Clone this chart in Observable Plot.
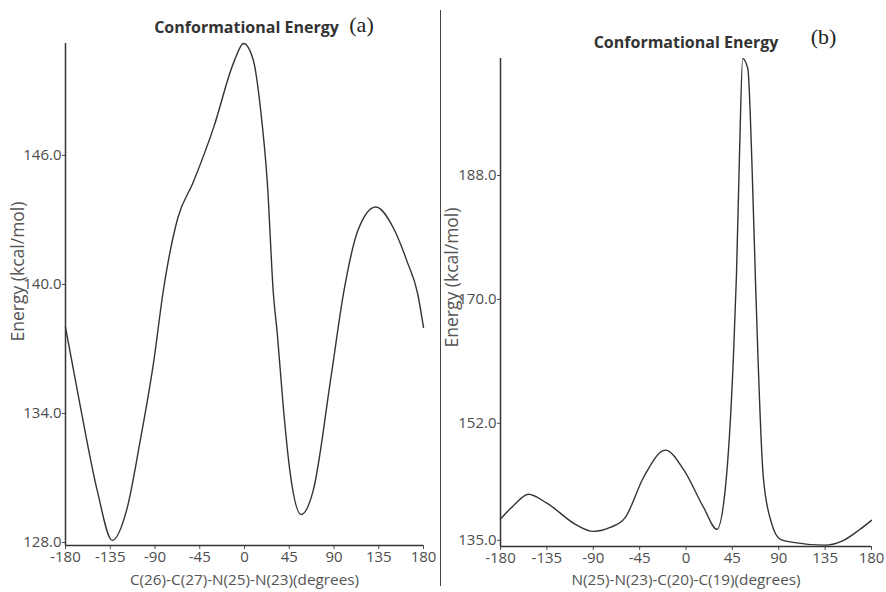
<!DOCTYPE html>
<html><head><meta charset="utf-8">
<script src="https://cdn.jsdelivr.net/npm/d3@7"></script>
<script src="https://cdn.jsdelivr.net/npm/@observablehq/plot@0.6"></script>
<style>
body{margin:0;background:#fff;}
#wrap{position:relative;width:886px;height:592px;overflow:hidden;background:#fff;}
.panel{position:absolute;top:0;}
#divider{position:absolute;left:440px;top:10px;width:1px;height:576px;background:#444;}
</style></head><body>
<div id="wrap"><div class="panel" id="pa" style="left:0"></div><div id="divider"></div><div class="panel" id="pb" style="left:443px"></div></div>
<script>
// Panel (a): C(26)-C(27)-N(25)-N(23)
const anglesA = [-180, -165, -148, -133, -118, -105, -91, -82, -67, -52, -31, -11, -1, 9, 16, 23, 29, 33, 39, 46, 57, 69, 87, 100, 114, 132, 150, 164, 174, 180];
const energyA = [138.0, 134.3, 130.4, 128.1, 129.6, 132.7, 136.5, 139.6, 143.1, 144.7, 147.3, 150.3, 151.2, 150.4, 148.2, 144.7, 139.6, 137.7, 134.3, 131.2, 129.3, 130.4, 135.7, 139.7, 142.5, 143.6, 142.6, 141.0, 139.6, 138.0];
const yTicksA = [128, 134, 140, 146];

// Panel (b): N(25)-N(23)-C(20)-C(19)
const anglesB = [-180, -167, -153, -135, -106, -90, -73, -59, -41, -20, -2, 17, 30, 38, 46, 49, 52, 55, 60, 64, 67.5, 75, 83, 92, 104, 134, 153, 168, 180];
const energyB = [138.1, 140.1, 141.7, 140.4, 137.2, 136.3, 136.9, 138.3, 144.2, 148.1, 145.2, 139.8, 136.6, 142.3, 161.6, 173.7, 191.6, 205.0, 203.5, 189.7, 172.3, 144.2, 137.5, 135.1, 134.7, 134.3, 135.0, 136.5, 137.9];
const yTicksB = [135, 152, 170, 188];

const xTicks = [-180, -135, -90, -45, 0, 45, 90, 135, 180];
const titleText = "Conformational Energy";
const yLabel = "Energy (kcal/mol)";
const xLabelA = "C(26)-C(27)-N(25)-N(23)(degrees)";
const xLabelB = "N(25)-N(23)-C(20)-C(19)(degrees)";

function panel(o) {
  const data = o.angles.map((a, i) => ({angle: a, energy: o.energy[i]}));
  return Plot.plot({
    width: 443, height: 592,
    marginLeft: o.ml, marginRight: o.mr, marginTop: o.mt, marginBottom: o.mb,
    style: {fontFamily: "'Open Sans', 'Noto Sans', sans-serif", fontSize: "15px", color: "#4d4d4d", background: "#fff", overflow: "visible"},
    x: {domain: [-180, 180], ticks: xTicks, tickFormat: d => String(d), tickSize: 4, tickPadding: 2, label: null},
    y: {domain: o.yDomain, ticks: o.yTicks, tickFormat: d => d.toFixed(1), tickSize: 3, tickPadding: 1, label: null},
    marks: [
      Plot.ruleX([-180], {stroke: "#333", strokeWidth: 1.5}),
      Plot.ruleY([o.yDomain[0]], {stroke: "#333", strokeWidth: 1.5}),
      Plot.line(data, {x: "angle", y: "energy", curve: "monotone-x", stroke: "#333", strokeWidth: 1.4}),
      Plot.text([titleText], {text: d => d, frameAnchor: "top", dy: o.titleDy, dx: o.titleDx, fontWeight: "bold", fontSize: 16, fill: "#333"}),
      Plot.text([o.tag], {text: d => d, frameAnchor: "top-right", dx: o.tagDx, dy: o.tagDy, textAnchor: "middle", fontFamily: "'Liberation Serif', serif", fontSize: 22, fill: "#222"}),
      Plot.text([yLabel], {text: d => d, frameAnchor: "left", rotate: -90, textAnchor: "middle", lineAnchor: "middle", dx: o.ylDx, dy: o.ylDy, fontSize: 17.5, fill: "#555"}),
      Plot.text([o.xLabel], {text: d => d, frameAnchor: "bottom", lineAnchor: "middle", dy: o.xlDy, fontSize: 15.3, fill: "#555"})
    ]
  });
}

document.getElementById("pa").append(panel({
  angles: anglesA, energy: energyA, yDomain: [127.86, 151.2], yTicks: yTicksA, xLabel: xLabelA, tag: "(a)",
  ml: 65, mr: 20, mt: 43, mb: 47, titleDy: -22, titleDx: 2, tagDx: -62, tagDy: -27, ylDx: -47, ylDy: -23, xlDy: 35
}));
document.getElementById("pb").append(panel({
  angles: anglesB, energy: energyB, yDomain: [134.1, 205], yTicks: yTicksB, xLabel: xLabelB, tag: "(b)",
  ml: 57, mr: 15, mt: 58, mb: 46, titleDy: -22, titleDx: 0, tagDx: -48, tagDy: -30, ylDx: -48, ylDy: -25, xlDy: 34
}));
</script>
</body></html>
